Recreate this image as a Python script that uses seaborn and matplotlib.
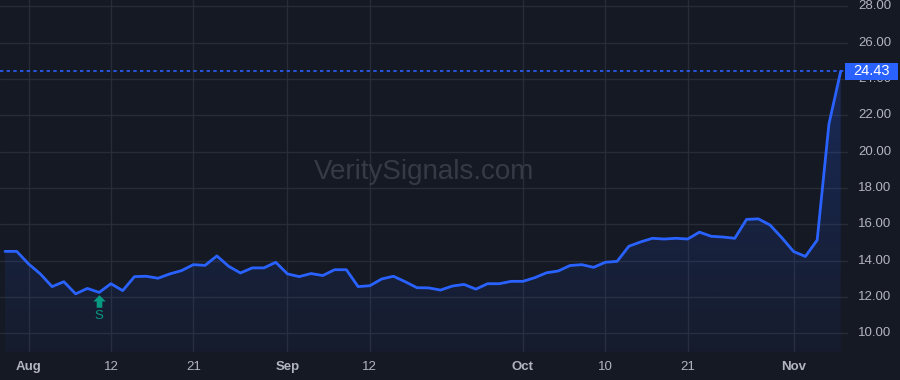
import numpy as np
import pandas as pd
import matplotlib
matplotlib.use("Agg")
import matplotlib.pyplot as plt
import seaborn as sns
from matplotlib.patches import Polygon, Rectangle
from matplotlib.path import Path

# ---- data (trading-day index, Jul 30 .. Nov 7) ----
prices = [14.51, 14.51, 13.82, 13.27, 12.57, 12.84, 12.17, 12.47, 12.25, 12.73,
          12.35, 13.12, 13.14, 13.03, 13.27, 13.45, 13.78, 13.74, 14.26, 13.69,
          13.32, 13.60, 13.60, 13.91, 13.27, 13.12, 13.29, 13.18, 13.50, 13.50,
          12.57, 12.62, 12.99, 13.14, 12.84, 12.51, 12.50, 12.38, 12.60, 12.69,
          12.43, 12.73, 12.73, 12.86, 12.86, 13.06, 13.33, 13.43, 13.73, 13.78,
          13.63, 13.91, 13.96, 14.79, 15.03, 15.23, 15.19, 15.23, 15.19, 15.57,
          15.34, 15.30, 15.23, 16.27, 16.30, 15.96, 15.26, 14.50, 14.23, 15.13,
          21.52, 24.43]
tick_idx = [2, 9, 16, 24, 31, 44, 51, 58, 67]
tick_labels = ["Aug", "12", "21", "Sep", "12", "Oct", "10", "21", "Nov"]
tick_bold = [True, False, False, True, False, True, False, False, True]
y_ticks = [10, 12, 14, 16, 18, 20, 22, 24, 26, 28]
signal_idx = [8]
signal_text = ["S"]
last_label = "24.43"
watermark = "VeritySignals.com"

BG = "#151924"
GRID = "#282c37"
LINE = "#2962ff"
TXT = "#b2b5be"
GREEN = "#089981"

df = pd.DataFrame({"i": np.arange(len(prices)), "price": prices})

sns.set_theme(style="dark")
plt.rcParams["font.family"] = ["Liberation Sans", "DejaVu Sans"]

fig = plt.figure(figsize=(9, 3.8), dpi=100, facecolor=BG)
ax = fig.add_axes([0, 28 / 380, 848 / 900, 352 / 380])
ax.set_facecolor(BG)

xlo, xhi = -0.425, 71.62
ylo, yhi = 8.97, 28.35
ax.set_xlim(xlo, xhi)
ax.set_ylim(ylo, yhi)

# grid
for t in y_ticks:
    ax.axhline(t, color=GRID, lw=1, zorder=0)
for t in tick_idx:
    ax.axvline(t, color=GRID, lw=1, zorder=0)

# gradient fill under line
xs = df["i"].values
ys = df["price"].values
verts = [(xs[0], ylo)] + list(zip(xs, ys)) + [(xs[-1], ylo)]
poly = Polygon(verts, closed=True, facecolor="none", edgecolor="none")
ax.add_patch(poly)
grad = np.zeros((256, 2, 4))
rgb = matplotlib.colors.to_rgb(LINE)
grad[..., 0], grad[..., 1], grad[..., 2] = rgb
alphas = np.linspace(0.24, 0.04, 256)[:, None]
grad[..., 3] = alphas
img = ax.imshow(grad, extent=[xs[0], xs[-1], ylo, max(ys)], origin="upper",
                aspect="auto", zorder=1, interpolation="bilinear")
img.set_clip_path(poly)

sns.lineplot(data=df, x="i", y="price", ax=ax, color=LINE, lw=2, zorder=3)

# last price dotted line
ax.axhline(prices[-1], color=LINE, lw=1.2, ls=(0, (2, 2)), zorder=2)

# watermark
ax.text(0.5, 0.51, watermark, transform=ax.transAxes, ha="center", va="center",
        fontsize=20, color="#363a46", zorder=0.5)

# signal markers (block up-arrow)
arrow_path = Path([(-1, 0), (0, 1), (1, 0), (0.45, 0), (0.45, -1),
                   (-0.45, -1), (-0.45, 0), (-1, 0)], closed=True)
for si, st in zip(signal_idx, signal_text):
    ax.plot([si], [prices[si] - 0.45], marker=arrow_path, ms=9, color=GREEN,
            mec="none", zorder=4, ls="none")
    ax.text(si, prices[si] - 1.3, st, color=GREEN, ha="center", va="center", fontsize=9.5)

ax.set_xlabel("")
ax.set_ylabel("")
ax.set_xticks([])
ax.set_yticks([])
for s in ax.spines.values():
    s.set_visible(False)

# x labels
for t, lab, b in zip(tick_idx, tick_labels, tick_bold):
    ax.text(t, -0.043, lab, transform=ax.get_xaxis_transform(), ha="center", va="center",
            fontsize=9.5, color=TXT, fontweight="bold" if b else "normal", clip_on=False)

# y labels on right
for t in y_ticks:
    ax.text(1.0 + 10 / 848, t, f"{t:.2f}", transform=ax.get_yaxis_transform(),
            ha="left", va="center", fontsize=9.5, color=TXT, clip_on=False)

# last price label box
fig.canvas.draw()
_, ypix = ax.transData.transform((0, prices[-1]))
box = Rectangle((845, ypix - 8.5), 53, 17, transform=None, fc=LINE, ec="none", zorder=9)
fig.patches.append(box)
fig.text((845 + 26.5) / 900, ypix / 380, last_label, ha="center", va="center",
         fontsize=10.5, color="white", zorder=10)

fig.savefig("out.png", dpi=100, facecolor=BG)
